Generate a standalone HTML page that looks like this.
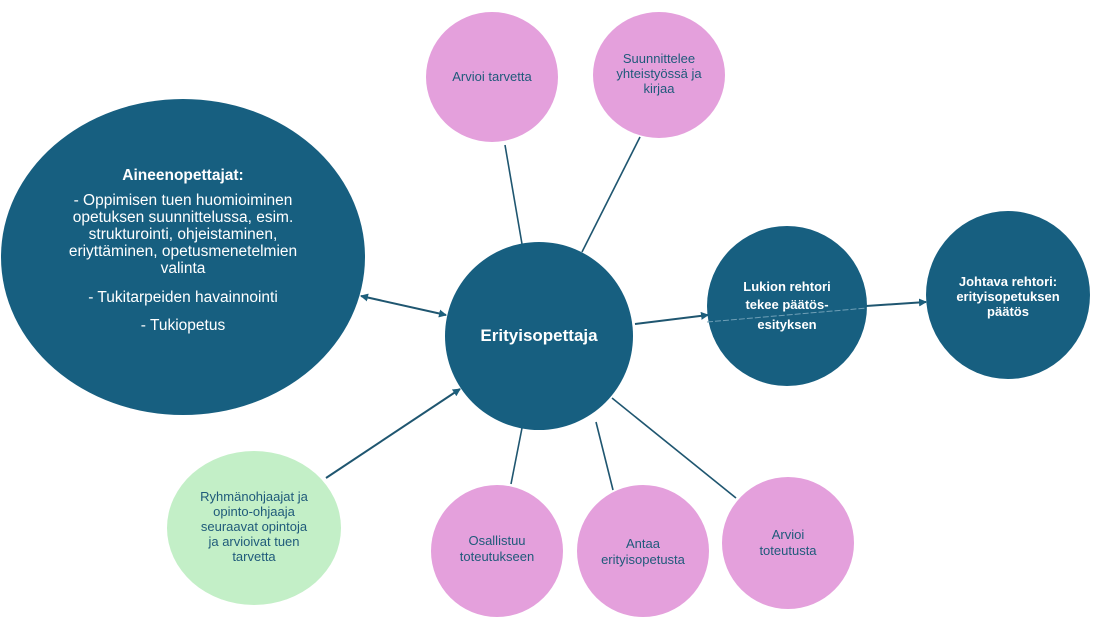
<!DOCTYPE html>
<html><head><meta charset="utf-8"><style>
html,body{margin:0;padding:0;background:#fff;width:1097px;height:622px;overflow:hidden}
svg{display:block}
text{font-family:"Liberation Sans",sans-serif}
</style></head><body>
<svg width="1097" height="622" viewBox="0 0 1097 622" xmlns="http://www.w3.org/2000/svg">
<defs>
<marker id="ah" markerWidth="8" markerHeight="8" refX="7" refY="4" orient="auto" markerUnits="userSpaceOnUse">
<path d="M0,0 L8,4 L0,8 z" fill="#1d5f7c"/></marker>
<marker id="ahs" markerWidth="8" markerHeight="8" refX="1" refY="4" orient="auto" markerUnits="userSpaceOnUse">
<path d="M8,0 L0,4 L8,8 z" fill="#1d5f7c"/></marker>
</defs>
<g stroke="#1f5670" stroke-width="1.6" fill="none">
<line x1="505" y1="145" x2="522" y2="244"/>
<line x1="640" y1="137" x2="582" y2="252"/>
<line x1="522" y1="428" x2="511" y2="484"/>
<line x1="596" y1="422" x2="613" y2="490"/>
<line x1="612" y1="398" x2="736" y2="498"/>
<line x1="326" y1="478" x2="460" y2="389" marker-end="url(#ah)" stroke-width="2"/>
<line x1="361" y1="296" x2="446" y2="315" marker-end="url(#ah)" marker-start="url(#ahs)" stroke-width="2"/>
<line x1="635" y1="324" x2="708" y2="315" marker-end="url(#ah)" stroke-width="2"/>
<line x1="866" y1="306" x2="926" y2="302" marker-end="url(#ah)" stroke-width="2"/>
</g>
<ellipse cx="183" cy="257" rx="182" ry="158" fill="#175f80"/>
<circle cx="539" cy="336" r="94" fill="#175f80"/>
<ellipse cx="787" cy="306" rx="80" ry="80" fill="#175f80"/>
<line x1="707" y1="322" x2="867" y2="308" stroke="#6f9fb6" stroke-width="1" stroke-dasharray="6,2"/>
<ellipse cx="1008" cy="295" rx="82" ry="84" fill="#175f80"/>
<ellipse cx="492" cy="77" rx="66" ry="65" fill="#e4a0dc"/>
<ellipse cx="659" cy="75" rx="66" ry="63" fill="#e4a0dc"/>
<ellipse cx="254" cy="528" rx="87" ry="77" fill="#c3efc7"/>
<ellipse cx="497" cy="551" rx="66" ry="66" fill="#e4a0dc"/>
<ellipse cx="643" cy="551" rx="66" ry="66" fill="#e4a0dc"/>
<ellipse cx="788" cy="543" rx="66" ry="66" fill="#e4a0dc"/>
<g fill="#fff" text-anchor="middle" font-size="15.5">
<text x="183" y="180" font-weight="bold">Aineenopettajat:</text>
<text x="183" y="205">- Oppimisen tuen huomioiminen</text>
<text x="183" y="222">opetuksen suunnittelussa, esim.</text>
<text x="183" y="239">strukturointi, ohjeistaminen,</text>
<text x="183" y="256">eriyttäminen, opetusmenetelmien</text>
<text x="183" y="273">valinta</text>
<text x="183" y="302">- Tukitarpeiden havainnointi</text>
<text x="183" y="330">- Tukiopetus</text>
<text x="539" y="341" font-size="17" font-weight="bold">Erityisopettaja</text>
<g font-size="13" font-weight="bold">
<text x="787" y="291">Lukion rehtori</text>
<text x="787" y="309">tekee päätös-</text>
<text x="787" y="329">esityksen</text>
<text x="1008" y="286">Johtava rehtori:</text>
<text x="1008" y="301">erityisopetuksen</text>
<text x="1008" y="316">päätös</text>
</g></g>
<g fill="#1f5a7a" text-anchor="middle" font-size="13">
<text x="492" y="81">Arvioi tarvetta</text>
<text x="659" y="63">Suunnittelee</text>
<text x="659" y="78">yhteistyössä ja</text>
<text x="659" y="93">kirjaa</text>
<text x="254" y="501">Ryhmänohjaajat ja</text>
<text x="254" y="516">opinto-ohjaaja</text>
<text x="254" y="531">seuraavat opintoja</text>
<text x="254" y="546">ja arvioivat tuen</text>
<text x="254" y="561">tarvetta</text>
<text x="497" y="545">Osallistuu</text>
<text x="497" y="561">toteutukseen</text>
<text x="643" y="548">Antaa</text>
<text x="643" y="564">erityisopetusta</text>
<text x="788" y="539">Arvioi</text>
<text x="788" y="555">toteutusta</text>
</g>
</svg>
</body></html>
